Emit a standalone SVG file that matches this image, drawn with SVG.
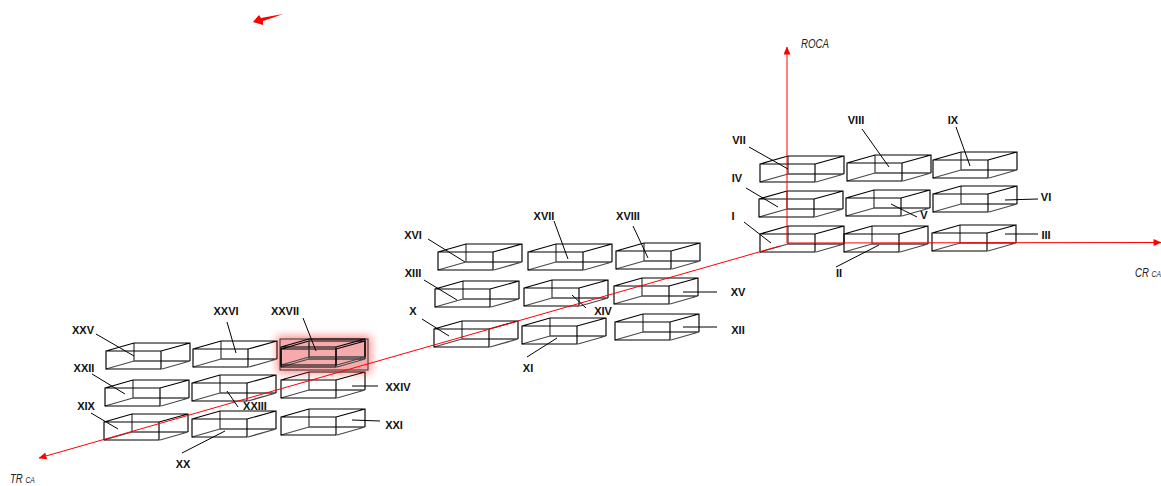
<svg xmlns="http://www.w3.org/2000/svg" xmlns:xlink="http://www.w3.org/1999/xlink" width="1161" height="486" viewBox="0 0 1161 486">
<style>
text{font-family:"Liberation Sans",Arial,sans-serif}
.l{font-size:11px;font-weight:700;fill:#111;text-anchor:middle}
.a{font-size:12px;font-style:italic;fill:#222}
.s{font-size:8.5px}
.f{fill:none;stroke:#000;stroke-width:1.15}
.r{fill:none;stroke:#4a4a4a;stroke-width:1.3}
#leaders line{stroke:#000;stroke-width:1}
.ax{stroke:#f00;stroke-width:1;fill:none}
</style>
<defs>
<g id="box">
<path class="r" d="M28-8V10H84M0 18 28 10M56 18 84 10"/>
<path class="f" d="M0 0H55V18H0ZM0 0 28-8H84V10M55 0 84-8"/>
</g>
<marker id="ah" markerWidth="8" markerHeight="7" refX="7.5" refY="3.5" orient="auto" markerUnits="userSpaceOnUse"><path d="M0 0 8 3.5 0 7Z" fill="#f00"/></marker>
<filter id="glow" x="-30%" y="-60%" width="160%" height="220%"><feGaussianBlur stdDeviation="4"/></filter>
</defs>
<path fill="#f00" d="M283 14 261 18 259 15 253 22 263 25 263 21 272 18Z"/>
<g id="nodes">
<g id="n1"><use href="#box" x="760" y="234"/><text class="l" x="733" y="220">I</text></g>
<g id="n2"><use href="#box" x="844" y="234"/><text class="l" x="839" y="277">II</text></g>
<g id="n3"><use href="#box" x="932" y="233"/><text class="l" x="1046" y="239">III</text></g>
<g id="n4"><use href="#box" x="759" y="199"/><text class="l" x="737" y="182">IV</text></g>
<g id="n5"><use href="#box" x="846" y="198"/><text class="l" x="924" y="219">V</text></g>
<g id="n6"><use href="#box" x="933" y="194"/><text class="l" x="1046" y="201">VI</text></g>
<g id="n7"><use href="#box" x="760" y="164"/><text class="l" x="739" y="144">VII</text></g>
<g id="n8"><use href="#box" x="847" y="163"/><text class="l" x="856" y="124">VIII</text></g>
<g id="n9"><use href="#box" x="933" y="160"/><text class="l" x="953" y="124">IX</text></g>
<g id="n10"><use href="#box" x="434" y="329"/><text class="l" x="413" y="315">X</text></g>
<g id="n11"><use href="#box" x="522" y="326"/><text class="l" x="528" y="372">XI</text></g>
<g id="n12"><use href="#box" x="615" y="322"/><text class="l" x="738" y="334">XII</text></g>
<g id="n13"><use href="#box" x="435" y="289"/><text class="l" x="413" y="277">XIII</text></g>
<g id="n14"><use href="#box" x="524" y="288"/><text class="l" x="603" y="315">XIV</text></g>
<g id="n15"><use href="#box" x="614" y="286"/><text class="l" x="738" y="296">XV</text></g>
<g id="n16"><use href="#box" x="438" y="252"/><text class="l" x="413" y="239">XVI</text></g>
<g id="n17"><use href="#box" x="528" y="252"/><text class="l" x="544" y="220">XVII</text></g>
<g id="n18"><use href="#box" x="616" y="251"/><text class="l" x="628" y="220">XVIII</text></g>
<g id="n19"><use href="#box" x="104" y="422"/><text class="l" x="86" y="410">XIX</text></g>
<g id="n20"><use href="#box" x="192" y="419"/><text class="l" x="183" y="468">XX</text></g>
<g id="n21"><use href="#box" x="281" y="417"/><text class="l" x="394" y="429">XXI</text></g>
<g id="n22"><use href="#box" x="105" y="388"/><text class="l" x="84" y="372">XXII</text></g>
<g id="n23"><use href="#box" x="192" y="383"/><text class="l" x="255" y="410">XXIII</text></g>
<g id="n24"><use href="#box" x="281" y="380"/><text class="l" x="398" y="391">XXIV</text></g>
<g id="n25"><use href="#box" x="106" y="351"/><text class="l" x="83" y="334">XXV</text></g>
<g id="n26"><use href="#box" x="193" y="349"/><text class="l" x="226" y="315">XXVI</text></g>
<g id="n27">
<rect x="277" y="336" width="94" height="37" fill="#f00" opacity=".45" filter="url(#glow)"/>
<rect x="280" y="339" width="88" height="31" fill="#f5abab" stroke="#333" stroke-width="1"/>
<use href="#box" x="281" y="349"/>
<use href="#box" x="281" y="347"/>
<text class="l" x="285" y="315">XXVII</text>
</g>
</g>
<g id="connectors">
<g class="axes">
<line class="ax" x1="780" y1="246" x2="39" y2="458" marker-end="url(#ah)"/>
<line class="ax" x1="787" y1="243" x2="1161" y2="242.5" marker-end="url(#ah)"/>
<line class="ax" x1="787" y1="243" x2="787" y2="47" marker-end="url(#ah)"/>
</g>
<g id="leaders">
<line x1="96" y1="334" x2="134" y2="356"/>
<line x1="227" y1="322" x2="236" y2="353"/>
<line x1="303" y1="318" x2="316" y2="351"/>
<line x1="92" y1="374" x2="125" y2="394"/>
<line x1="227" y1="391" x2="238" y2="407"/>
<line x1="352" y1="386" x2="378" y2="386"/>
<line x1="91" y1="413" x2="118" y2="429"/>
<line x1="182" y1="453" x2="225" y2="431"/>
<line x1="352" y1="420" x2="380" y2="421"/>
<line x1="428" y1="239" x2="465" y2="262"/>
<line x1="554" y1="221" x2="568" y2="259"/>
<line x1="633" y1="226" x2="648" y2="258"/>
<line x1="424" y1="280" x2="457" y2="300"/>
<line x1="572" y1="295" x2="586" y2="308"/>
<line x1="683" y1="292" x2="717" y2="292"/>
<line x1="422" y1="319" x2="449" y2="336"/>
<line x1="527" y1="357" x2="557" y2="338"/>
<line x1="683" y1="327" x2="717" y2="327"/>
<line x1="749" y1="147" x2="788" y2="169"/>
<line x1="862" y1="129" x2="889" y2="167"/>
<line x1="956" y1="127" x2="970" y2="166"/>
<line x1="746" y1="188" x2="778" y2="207"/>
<line x1="891" y1="204" x2="917" y2="217"/>
<line x1="1005" y1="200" x2="1038" y2="199"/>
<line x1="744" y1="222" x2="771" y2="243"/>
<line x1="836" y1="267" x2="879" y2="245"/>
<line x1="1005" y1="234" x2="1038" y2="234"/>
</g>
</g>
<g id="axis-labels">
<text class="a" x="801" y="48" textLength="28" lengthAdjust="spacingAndGlyphs">ROCA</text>
<text class="a" transform="translate(1135 277) scale(.8 1)">CR <tspan class="s">CA</tspan></text>
<text class="a" transform="translate(10 483) scale(.8 1)">TR <tspan class="s">CA</tspan></text>
</g>
</svg>
